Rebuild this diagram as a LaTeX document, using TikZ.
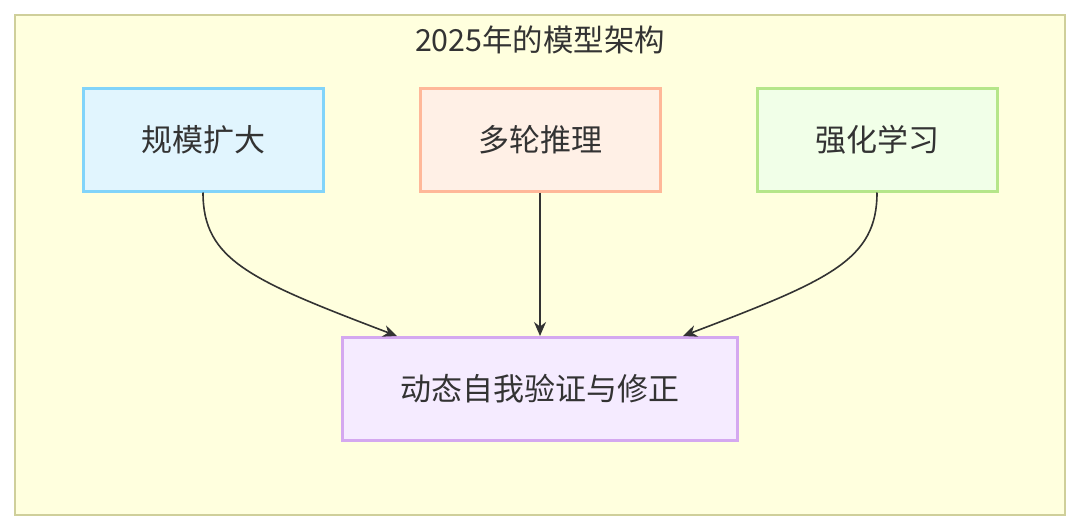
\documentclass[tikz,border=0pt]{standalone}
\usepackage{fontspec}
\newfontfamily\cjk{Noto Sans CJK SC}
\usetikzlibrary{arrows.meta}
\definecolor{bgY}{HTML}{FFFFDE}
\definecolor{bdY}{HTML}{CFCF9A}
\tikzset{
 box/.style={draw, line width=1.5pt, minimum width=120pt, minimum height=51.5pt, font=\cjk\fontsize{15.5}{18}\selectfont, text=black!80},
 arr/.style={-{Stealth[length=7pt,width=6pt]}, line width=0.8pt, draw=black!80}
}
\begin{document}
\begin{tikzpicture}[x=0.5pt,y=-0.5pt]
\useasboundingbox (0,0) rectangle (1080,530);
\fill[white] (0,0) rectangle (1080,530);
\draw[fill=bgY, draw=bdY, line width=1pt] (15,15) rectangle (1065,515);
\node[font=\cjk\fontsize{15.2}{18}\selectfont, text=black!80] (title) at (540,40) {2025年的模型架构};
\node[box, fill={rgb,255:red,225;green,245;blue,254}, draw={rgb,255:red,129;green,212;blue,250}] (a) at (203,139.5) {规模扩大};
\node[box, fill={rgb,255:red,255;green,240;blue,230}, draw={rgb,255:red,255;green,184;blue,153}] (b) at (540,139.5) {多轮推理};
\node[box, fill={rgb,255:red,241;green,255;blue,232}, draw={rgb,255:red,181;green,230;blue,138}] (c) at (877,139.5) {强化学习};
\node[box, minimum width=197.5pt, fill={rgb,255:red,245;green,235;blue,255}, draw={rgb,255:red,212;green,168;blue,240}] (d) at (539.5,389) {动态自我验证与修正};
\coordinate (dl) at (397,336);
\coordinate (dm) at (540,336);
\coordinate (dr) at (683,336);
\draw[arr] (a.south) .. controls (203,260) and (250,280) .. (dl);
\draw[arr] (b.south) -- (dm);
\draw[arr] (c.south) .. controls (877,260) and (830,280) .. (dr);
\end{tikzpicture}
\end{document}
